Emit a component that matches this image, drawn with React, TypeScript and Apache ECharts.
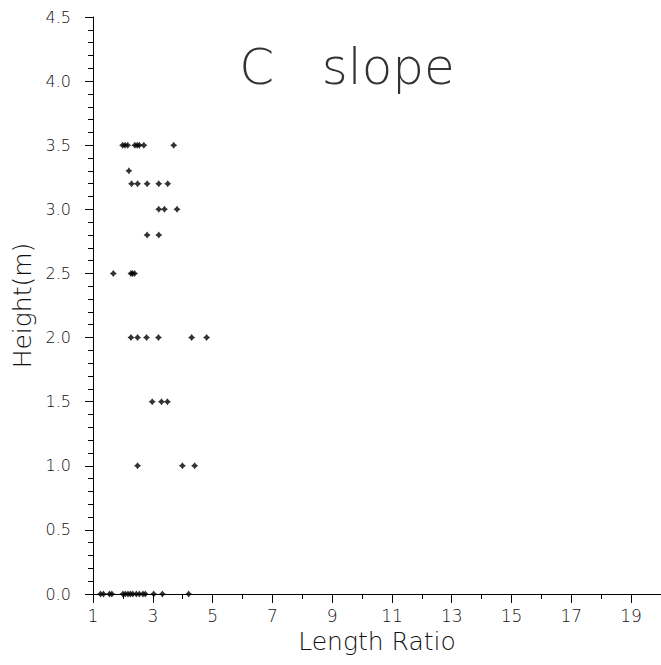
import React, { useEffect, useRef } from "react";
import * as echarts from "echarts";

// Heights (m) of each row of points
const heights = [3.5, 3.3, 3.2, 3.0, 2.8, 2.5, 2.0, 1.5, 1.0, 0.0];
// Length ratios observed at each height (same order as heights)
const ratiosAt3_5 = [1.99, 2.07, 2.16, 2.4, 2.48, 2.55, 2.7, 3.7];
const ratiosAt3_3 = [2.2];
const ratiosAt3_2 = [2.29, 2.49, 2.81, 3.2, 3.5];
const ratiosAt3_0 = [3.2, 3.39, 3.81];
const ratiosAt2_8 = [2.81, 3.2];
const ratiosAt2_5 = [1.68, 2.27, 2.32, 2.39];
const ratiosAt2_0 = [2.27, 2.49, 2.79, 3.19, 4.3, 4.8];
const ratiosAt1_5 = [2.98, 3.29, 3.49];
const ratiosAt1_0 = [2.49, 3.99, 4.4];
const ratiosAt0_0 = [1.25, 1.35, 1.55, 1.63, 2.0, 2.08, 2.17, 2.25, 2.33, 2.45, 2.55, 2.67, 2.75, 3.03, 3.32, 4.2];
const ratioRows = [
  ratiosAt3_5, ratiosAt3_3, ratiosAt3_2, ratiosAt3_0, ratiosAt2_8,
  ratiosAt2_5, ratiosAt2_0, ratiosAt1_5, ratiosAt1_0, ratiosAt0_0,
];

const xMin = 1;
const xMax = 20;
const yTicks = ["0.0", "0.5", "1.0", "1.5", "2.0", "2.5", "3.0", "3.5", "4.0", "4.5"];
const titleText = "C   slope";
const xName = "Length Ratio";
const yName = "Height(m)";

// x axis ticks are labelled at odd values starting from 1; the value axis counts
// ticks from its min, so the axis is laid out relative to xMin.
const X_OFFSET = xMin;

export default function App() {
  const ref = useRef<HTMLDivElement>(null);
  useEffect(() => {
    if (!ref.current) return;
    const chart = echarts.init(ref.current, null, { renderer: "svg" });
    const points: number[][] = [];
    heights.forEach((h, i) => {
      ratioRows[i].forEach((r) => points.push([r - X_OFFSET, h]));
    });
    const font = "DejaVu Sans";
    const txtColor = "#111";
    chart.setOption({
      animation: false,
      backgroundColor: "#fff",
      grid: { left: 93, right: 0, top: 17, bottom: 71, containLabel: false },
      graphic: [
        {
          type: "text",
          x: 347,
          y: 67,
          style: {
            text: titleText,
            font: `200 50px "${font}"`,
            fill: "#333",
            align: "center",
            verticalAlign: "middle",
          },
        },
      ],
      xAxis: {
        type: "value",
        min: 0,
        max: xMax - X_OFFSET,
        interval: 2,
        name: xName,
        nameLocation: "middle",
        nameGap: 34,
        nameTextStyle: { fontFamily: font, fontSize: 25, fontWeight: 200, color: txtColor },
        axisLine: { show: true, onZero: false, lineStyle: { color: "#000", width: 1 } },
        axisTick: { show: true, inside: false, length: 9, lineStyle: { color: "#000" } },
        minorTick: { show: true, splitNumber: 2, length: 5, lineStyle: { color: "#000" } },
        splitLine: { show: false },
        axisLabel: {
          margin: 13,
          fontFamily: font,
          fontSize: 17,
          fontWeight: 200,
          color: txtColor,
          formatter: (v: number) => String(Math.round(v + X_OFFSET)),
          showMaxLabel: false,
        },
      },
      yAxis: {
        type: "value",
        min: 0,
        max: 4.5,
        interval: 0.5,
        name: yName,
        nameLocation: "middle",
        nameGap: 57,
        nameRotate: 90,
        nameTextStyle: { fontFamily: font, fontSize: 25, fontWeight: 200, color: txtColor },
        axisLine: { show: true, onZero: false, lineStyle: { color: "#000", width: 1 } },
        axisTick: { show: true, inside: false, length: 8, lineStyle: { color: "#000" } },
        minorTick: { show: true, splitNumber: 5, length: 5, lineStyle: { color: "#000" } },
        splitLine: { show: false },
        axisLabel: {
          margin: 22,
          fontFamily: font,
          fontSize: 16,
          fontWeight: 200,
          color: txtColor,
          formatter: (v: number) => yTicks[Math.round(v / 0.5)] ?? v.toFixed(1),
        },
      },
      series: [
        {
          type: "scatter",
          data: points,
          clip: false,
          symbol: "path://M0,-1L0.42,-0.42L1,0L0.42,0.42L0,1L-0.42,0.42L-1,0L-0.42,-0.42Z",
          symbolSize: 7,
          itemStyle: { color: "#000" },
        },
      ],
    });
    return () => chart.dispose();
  }, []);
  return (
    <div
      ref={ref}
      style={{ position: "absolute", left: 0, top: 0, width: 661, height: 665, background: "#fff" }}
    />
  );
}
